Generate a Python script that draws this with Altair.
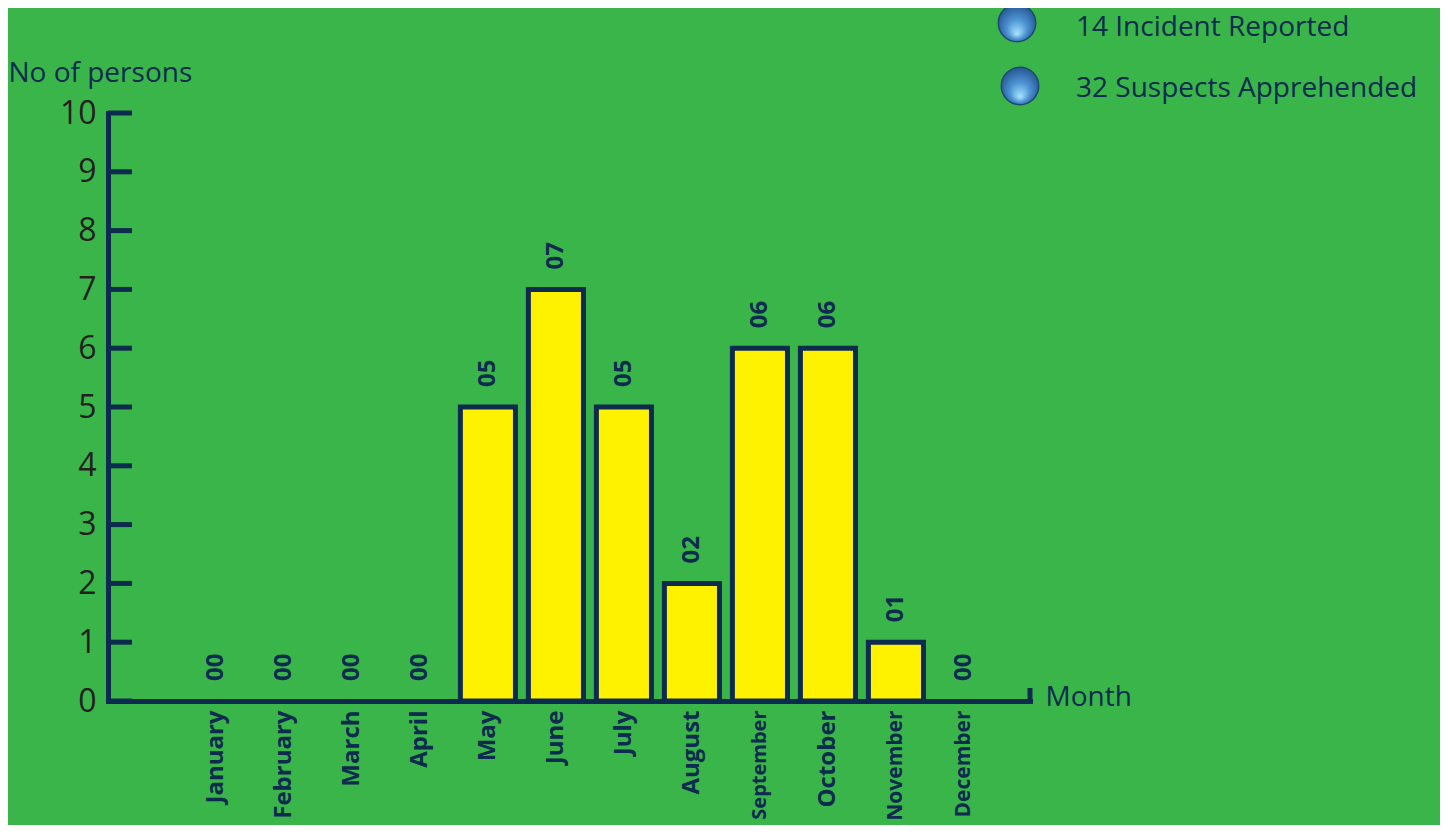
import altair as alt
import pandas as pd

# ---- data ----
months = ["January", "February", "March", "April", "May", "June",
          "July", "August", "September", "October", "November", "December"]
persons = [0, 0, 0, 0, 5, 7, 5, 2, 6, 6, 1, 0]
value_labels = ["00", "00", "00", "00", "05", "07", "05", "02", "06", "06", "01", "00"]
y_ticks = [0, 1, 2, 3, 4, 5, 6, 7, 8, 9, 10]
legend_labels = ["14 Incident Reported", "32 Suspects Apprehended"]
x_title = "Month"
y_title = "No of persons"

NAVY = "#0D2B4E"
BG = "#3AB54A"
YELLOW = "#FFF200"
FONT = "Open Sans"
W, H = 922, 588

df = pd.DataFrame({"month": months, "persons": persons, "label": value_labels})
ticks_df = pd.DataFrame({"v": y_ticks})

xscale = alt.Scale(domain=months, paddingInner=0.19, paddingOuter=0.874, align=0.676)
yscale = alt.Scale(domain=[0, 10], nice=False, zero=True)

x_axis = alt.Axis(
    title=x_title, titleAngle=0, titleX=937, titleY=-4, titleAlign="left",
    titleBaseline="middle", titleFont=FONT, titleFontSize=28, titleFontWeight="normal",
    titleColor=NAVY,
    labelAngle=270, labelAlign="right", labelBaseline="middle", labelFont=FONT,
    labelFontWeight="bold",
    labelFontSize={"condition": [
        {"test": "datum.value == 'September'", "value": 20},
        {"test": "datum.value == 'November' || datum.value == 'December'", "value": 21},
    ], "value": 24},
    labelColor=NAVY, labelPadding=9, ticks=False, domainColor=NAVY, domainWidth=5,
    domainCap="square", grid=False,
)
y_axis = alt.Axis(
    title=y_title, titleAngle=0, titleX=-100, titleY=-40, titleAlign="left",
    titleBaseline="middle", titleFont=FONT, titleFontSize=28, titleFontWeight="normal",
    titleColor=NAVY,
    values=y_ticks, format="d", labelFont=FONT, labelFontSize=32, labelColor="#231F20",
    labelPadding=12, ticks=False, domainColor=NAVY, domainWidth=5, domainCap="square",
    grid=False,
)

base = alt.Chart(df)

axes_layer = base.mark_bar(opacity=0).encode(
    x=alt.X("month:N", sort=months, scale=xscale, axis=x_axis),
    y=alt.Y("persons:Q", scale=yscale, axis=y_axis),
)

bars = base.transform_filter("datum.persons > 0").mark_bar(
    fill=YELLOW, stroke=NAVY, strokeWidth=5
).encode(
    x=alt.X("month:N", sort=months, scale=xscale),
    y=alt.Y("persons:Q", scale=yscale),
)

labels = base.mark_text(
    angle=270, align="left", baseline="middle", dx=20, font=FONT,
    fontWeight="bold", fontSize=24, color=NAVY
).encode(
    x=alt.X("month:N", sort=months, scale=xscale),
    y=alt.Y("persons:Q", scale=yscale),
    text="label:N",
)

y_tick_rules = alt.Chart(ticks_df).mark_rule(color=NAVY, strokeWidth=5).encode(
    y=alt.Y("v:Q", scale=yscale),
    x=alt.value(0),
    x2=alt.value(24),
)

end_tick = alt.Chart(pd.DataFrame({"a": [0]})).mark_rule(color=NAVY, strokeWidth=5).encode(
    x=alt.value(W), y=alt.value(H), y2=alt.value(H - 13)
)

gradient = {
    "gradient": "radial", "x1": 0.5, "y1": 0.8, "x2": 0.5, "y2": 0.5,
    "r1": 0, "r2": 0.6,
    "stops": [
        {"offset": 0, "color": "#A9E6FF"},
        {"offset": 0.45, "color": "#4C92D2"},
        {"offset": 1, "color": "#1C4A82"},
    ],
}

legend_layers = []
for lab, cx, cy, ty in zip(legend_labels, [909, 912], [-90, -27], [-85, -24]):
    ldf = pd.DataFrame({"t": [lab]})
    legend_layers.append(
        alt.Chart(ldf).mark_point(
            shape="circle", filled=True, size=1400, fill=gradient,
            stroke="#1F4A70", strokeWidth=1.5, opacity=1
        ).encode(x=alt.value(cx), y=alt.value(cy))
    )
    legend_layers.append(
        alt.Chart(ldf).mark_text(
            align="left", baseline="middle", font=FONT, fontSize=28, color=NAVY
        ).encode(x=alt.value(968), y=alt.value(ty), text="t:N")
    )

chart = alt.layer(
    axes_layer, bars, labels, y_tick_rules, end_tick, *legend_layers
).properties(
    width=W, height=H,
    padding={"left": 100, "top": 105, "right": 410, "bottom": 124},
    autosize=alt.AutoSizeParams(type="none"),
).configure(background=BG).configure_view(stroke=None)

chart.save("out.html", embed_options={"renderer": "svg", "actions": False})
